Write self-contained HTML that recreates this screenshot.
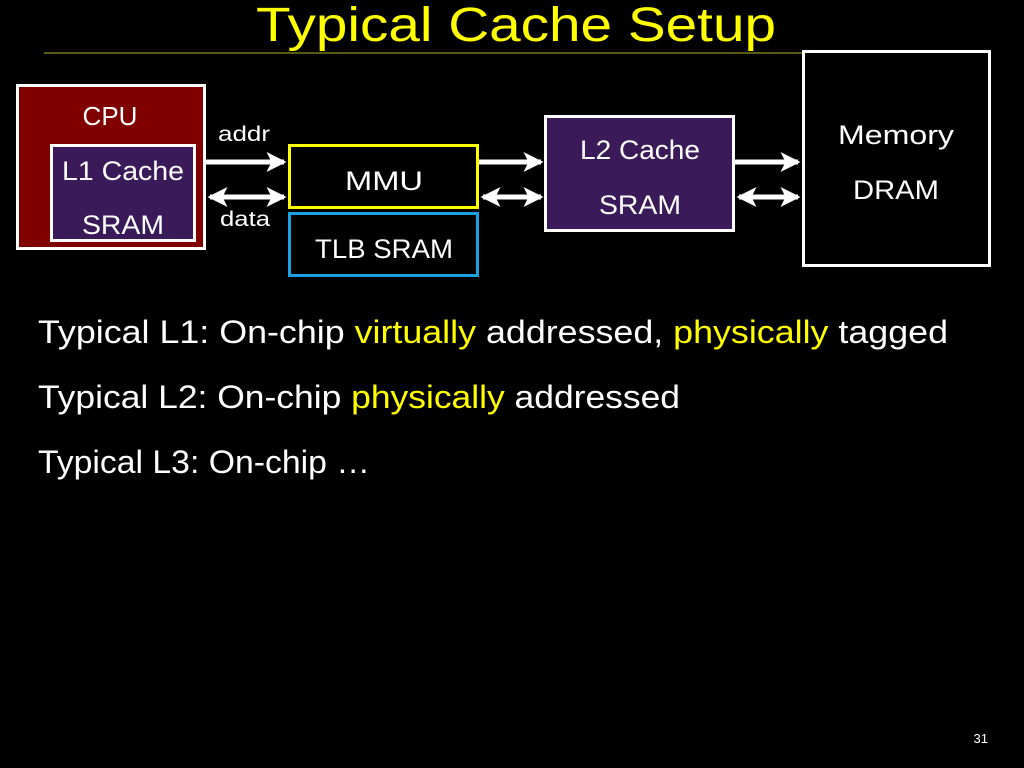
<!DOCTYPE html>
<html><head><style>body{margin:0;background:#000}svg{display:block}</style></head><body>
<svg width="1024" height="768" viewBox="0 0 1024 768" xmlns="http://www.w3.org/2000/svg" font-family="Liberation Sans, sans-serif">
<defs>
<marker id="ah" markerWidth="4" markerHeight="4" refX="3.5" refY="2" orient="auto-start-reverse" markerUnits="strokeWidth"><path d="M0,0 L4,2 L0,4 L1,2 z" fill="#fff"/></marker>
</defs>
<rect width="1024" height="768" fill="#000"/>
<text x="516" y="41" fill="#ffff00" font-size="48" text-anchor="middle" textLength="520" lengthAdjust="spacingAndGlyphs">Typical Cache Setup</text>
<line x1="44" y1="53" x2="802" y2="53" stroke="#5a5a12" stroke-width="2"/>
<rect x="17.5" y="85.5" width="187" height="163" fill="#800000" stroke="#fff" stroke-width="3"/>
<text x="110" y="125" fill="#fff" font-size="26" text-anchor="middle">CPU</text>
<rect x="51.5" y="145.5" width="143" height="95" fill="#3a1a58" stroke="#fff" stroke-width="3"/>
<text x="123" y="180" fill="#fff" font-size="27" text-anchor="middle" textLength="122" lengthAdjust="spacingAndGlyphs">L1 Cache</text>
<text x="123" y="234" fill="#fff" font-size="27" text-anchor="middle" textLength="82" lengthAdjust="spacingAndGlyphs">SRAM</text>
<rect x="289.5" y="145.5" width="188" height="62" fill="#000" stroke="#ffff00" stroke-width="3"/>
<text x="384" y="190" fill="#fff" font-size="27" text-anchor="middle" textLength="78" lengthAdjust="spacingAndGlyphs">MMU</text>
<rect x="289.5" y="213.5" width="188" height="62" fill="#000" stroke="#1ba1e2" stroke-width="3"/>
<text x="384" y="258" fill="#fff" font-size="27" text-anchor="middle" textLength="138" lengthAdjust="spacingAndGlyphs">TLB SRAM</text>
<rect x="545.5" y="116.5" width="188" height="114" fill="#3a1a58" stroke="#fff" stroke-width="3"/>
<text x="640" y="159" fill="#fff" font-size="27" text-anchor="middle" textLength="120" lengthAdjust="spacingAndGlyphs">L2 Cache</text>
<text x="640" y="214" fill="#fff" font-size="27" text-anchor="middle" textLength="82" lengthAdjust="spacingAndGlyphs">SRAM</text>
<rect x="803.5" y="51.5" width="186" height="214" fill="#000" stroke="#fff" stroke-width="3"/>
<text x="896" y="144" fill="#fff" font-size="27" text-anchor="middle" textLength="116" lengthAdjust="spacingAndGlyphs">Memory</text>
<text x="896" y="199" fill="#fff" font-size="27" text-anchor="middle" textLength="86" lengthAdjust="spacingAndGlyphs">DRAM</text>
<text x="244" y="141" fill="#fff" font-size="21" text-anchor="middle" textLength="52" lengthAdjust="spacingAndGlyphs">addr</text>
<text x="245" y="226" fill="#fff" font-size="21" text-anchor="middle" textLength="50" lengthAdjust="spacingAndGlyphs">data</text>
<g stroke="#fff" stroke-width="5" fill="none">
<line x1="206" y1="162" x2="284" y2="162" marker-end="url(#ah)"/>
<line x1="210" y1="197" x2="284" y2="197" marker-start="url(#ah)" marker-end="url(#ah)"/>
<line x1="479" y1="162" x2="541" y2="162" marker-end="url(#ah)"/>
<line x1="483" y1="197" x2="541" y2="197" marker-start="url(#ah)" marker-end="url(#ah)"/>
<line x1="735" y1="162" x2="798" y2="162" marker-end="url(#ah)"/>
<line x1="739" y1="197" x2="798" y2="197" marker-start="url(#ah)" marker-end="url(#ah)"/>
</g>
<g font-size="32" fill="#fff">
<text x="38" y="343" textLength="910" lengthAdjust="spacingAndGlyphs">Typical L1: On-chip <tspan fill="#ffff00">virtually</tspan> addressed, <tspan fill="#ffff00">physically</tspan> tagged</text>
<text x="38" y="408" textLength="642" lengthAdjust="spacingAndGlyphs">Typical L2: On-chip <tspan fill="#ffff00">physically</tspan> addressed</text>
<text x="38" y="473" textLength="332" lengthAdjust="spacingAndGlyphs">Typical L3: On-chip …</text>
</g>
<text x="988" y="743" fill="#fff" font-size="13" text-anchor="end">31</text>
</svg>
</body></html>
